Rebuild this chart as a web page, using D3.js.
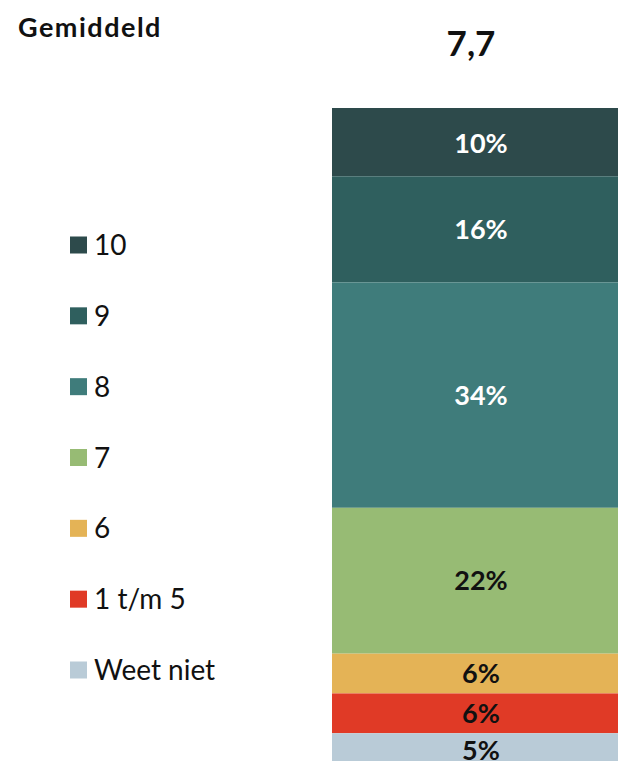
<!DOCTYPE html>
<html>
<head>
<meta charset="utf-8">
<script src="https://cdn.jsdelivr.net/npm/d3@7"></script>
<style>
  body { margin: 0; background: #fff; }
  svg { display: block; font-family: "Lato", "Open Sans", sans-serif; }
</style>
</head>
<body>
<div id="vis"></div>
<script>
// data (top of bar first)
const categories = ["10", "9", "8", "7", "6", "1 t/m 5", "Weet niet"];
const values = [10, 16, 34, 22, 6, 6, 5];
const colors = ["#2d4a4b", "#2f5f5e", "#3f7c7b", "#97bb74", "#e4b356", "#e03a26", "#b9cbd7"];
const labelColors = ["#fff", "#fff", "#fff", "#111", "#111", "#111", "#111"];
const averageLabel = "Gemiddeld";
const averageValue = "7,7";

const FRAME_WIDTH = 618;
const FRAME_HEIGHT = 761;
const BAR = {left: 332, right: 618, top: 108};

const svg = d3.select("#vis")
  .append("svg")
  .attr("width", FRAME_WIDTH)
  .attr("height", FRAME_HEIGHT);

// cumulative positions
const row = {};
categories.forEach((c, i) => row[c] = values[i]);
const series = d3.stack().keys(categories)([row]);

const Y_SCALE = d3.scaleLinear()
  .domain([0, 100])
  .range([BAR.top + 2, BAR.top + 665]);

const X_SCALE = d3.scaleBand()
  .domain(["bar"])
  .range([BAR.left, BAR.right])
  .padding(0);

const segs = svg.append("g")
  .selectAll("g")
  .data(series)
  .join("g");

segs.append("rect")
  .attr("x", X_SCALE("bar"))
  .attr("width", X_SCALE.bandwidth())
  .attr("y", d => d[0][0] == 0 ? BAR.top : Y_SCALE(d[0][0]))
  .attr("height", d => Y_SCALE(d[0][1]) - (d[0][0] == 0 ? BAR.top : Y_SCALE(d[0][0])))
  .attr("fill", (d, i) => colors[i]);

segs.append("text")
  .attr("x", X_SCALE("bar") + X_SCALE.bandwidth() / 2 + 6)
  .attr("y", d => (Y_SCALE(d[0][0]) + Y_SCALE(d[0][1])) / 2)
  .attr("dy", "0.36em")
  .attr("text-anchor", "middle")
  .attr("font-size", "27px")
  .attr("font-weight", "bold")
  .attr("fill", (d, i) => labelColors[i])
  .text((d, i) => values[i] + "%");

// header
svg.append("text")
  .attr("x", 18)
  .attr("y", 37)
  .attr("font-size", "27px")
  .attr("font-weight", "bold")
  .attr("letter-spacing", "1.5px")
  .attr("fill", "#111")
  .text(averageLabel);

svg.append("text")
  .attr("x", X_SCALE("bar") + X_SCALE.bandwidth() / 2 - 4)
  .attr("y", 56)
  .attr("text-anchor", "middle")
  .attr("font-size", "35px")
  .attr("font-weight", "bold")
  .attr("fill", "#111")
  .text(averageValue);

// legend
const LEGEND_Y = d3.scalePoint()
  .domain(categories)
  .range([245, 670]);

const legend = svg.append("g")
  .selectAll("g")
  .data(categories)
  .join("g")
  .attr("transform", d => "translate(70," + LEGEND_Y(d) + ")");

legend.append("rect")
  .attr("x", 0)
  .attr("y", -8.5)
  .attr("width", 17)
  .attr("height", 17)
  .attr("fill", (d, i) => colors[i]);

legend.append("text")
  .attr("x", 24)
  .attr("dy", "0.36em")
  .attr("font-size", "28px")
  .attr("fill", "#111")
  .text(d => d);
</script>
</body>
</html>
